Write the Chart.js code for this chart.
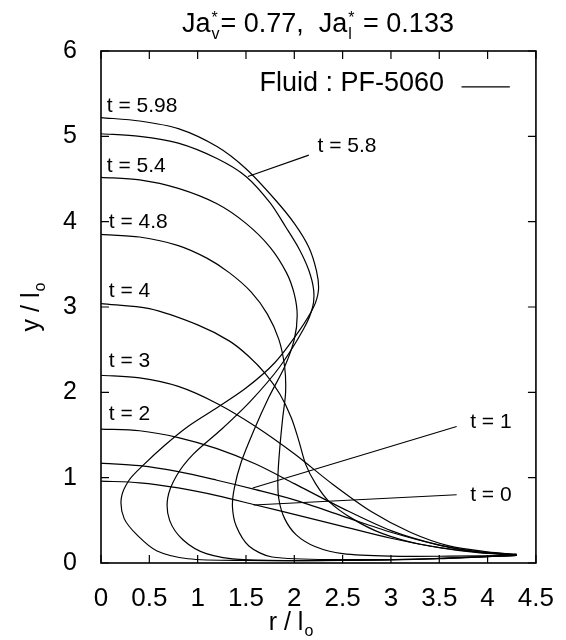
<!DOCTYPE html>
<html>
<head>
<meta charset="utf-8">
<script src="https://cdn.jsdelivr.net/npm/chart.js@4.4.1/dist/chart.umd.min.js"></script>
<style>
  html, body { margin: 0; padding: 0; background: #fff; }
  #wrap { width: 566px; height: 640px; }
</style>
</head>
<body>
<div id="wrap"><canvas id="chart" width="566" height="640"></canvas></div>
<script>
// ejes
const xTicks = [0, 0.5, 1, 1.5, 2, 2.5, 3, 3.5, 4, 4.5];
const yTicks = [0, 1, 2, 3, 4, 5, 6];

// perfiles de la interfase (r / lo, y / lo)
const perfil_t0 = [[0,0.96],[0.4,0.94],[0.8,0.88],[1.2,0.79],[1.6,0.68],[2.0,0.57],[2.5,0.43],[3.0,0.29],[3.5,0.18],[3.9,0.12],[4.3,0.09]];
const perfil_t1 = [[0,1.17],[0.4,1.14],[0.8,1.07],[1.2,0.97],[1.6,0.86],[2.0,0.74],[2.5,0.55],[3.0,0.36],[3.5,0.21],[3.9,0.13],[4.3,0.09]];
const perfil_t2 = [[0,1.57],[0.4,1.55],[0.8,1.47],[1.2,1.34],[1.6,1.16],[2.0,0.93],[2.5,0.64],[3.0,0.38],[3.5,0.21],[3.9,0.13],[4.3,0.1]];
const perfil_t3 = [[0,2.2],[0.4,2.17],[0.8,2.07],[1.2,1.87],[1.6,1.6],[2.0,1.28],[2.4,0.92],[2.8,0.6],[3.2,0.36],[3.6,0.2],[4.0,0.13],[4.3,0.1]];
const perfil_t4 = [[0,3.04],[0.5,2.98],[1.0,2.79],[1.33,2.6],[1.53,2.42],[1.7,2.22],[1.85,1.98],[1.97,1.7],[2.05,1.42],[2.12,1.15],[2.22,0.93],[2.36,0.72],[2.6,0.52],[2.9,0.35],[3.3,0.22],[3.8,0.14],[4.3,0.1]];
const perfil_t48 = [[0,3.85],[0.4,3.82],[0.8,3.72],[1.1,3.57],[1.33,3.4],[1.55,3.18],[1.72,2.92],[1.84,2.62],[1.9,2.3],[1.91,2.0],[1.88,1.7],[1.85,1.35],[1.83,1.0],[1.84,0.75],[1.9,0.52],[2.02,0.33],[2.22,0.19],[2.5,0.11],[3.0,0.08],[3.6,0.08],[4.3,0.09]];
const perfil_t54 = [[0,4.52],[0.4,4.49],[0.8,4.39],[1.2,4.21],[1.5,3.98],[1.75,3.7],[1.92,3.4],[2.0,3.15],[2.03,2.9],[2.0,2.62],[1.9,2.3],[1.74,1.95],[1.58,1.55],[1.45,1.18],[1.38,0.88],[1.36,0.66],[1.4,0.43],[1.53,0.2],[1.77,0.07],[2.5,0.04],[3.4,0.05],[4.3,0.09]];
const perfil_t58 = [[0,5.03],[0.4,5.0],[0.8,4.92],[1.2,4.74],[1.5,4.53],[1.75,4.22],[1.91,3.94],[2.05,3.68],[2.15,3.43],[2.2,3.2],[2.19,3.0],[2.1,2.75],[1.85,2.3],[1.55,1.9],[1.25,1.57],[0.95,1.27],[0.78,1.02],[0.69,0.76],[0.71,0.5],[0.85,0.27],[1.09,0.11],[1.47,0.04],[2.5,0.03],[3.5,0.05],[4.3,0.09]];
const perfil_t598 = [[0,5.22],[0.4,5.18],[0.8,5.09],[1.2,4.88],[1.5,4.62],[1.8,4.26],[2.0,3.98],[2.15,3.7],[2.23,3.42],[2.25,3.2],[2.2,3.0],[2.05,2.72],[1.8,2.35],[1.5,2.05],[1.2,1.82],[0.9,1.6],[0.66,1.38],[0.44,1.15],[0.29,0.97],[0.21,0.76],[0.24,0.52],[0.38,0.32],[0.58,0.14],[0.9,0.05],[1.5,0.03],[2.5,0.03],[3.4,0.05],[4.3,0.09]];

// lineas indicadoras de las etiquetas
const guia_t58 = [[1.52,4.53],[2.15,4.78]];
const guia_t1 = [[1.57,0.88],[3.68,1.60]];
const guia_t0 = [[1.58,0.68],[3.68,0.80]];

const perfiles = [perfil_t0, perfil_t1, perfil_t2, perfil_t3, perfil_t4, perfil_t48, perfil_t54, perfil_t58, perfil_t598];
const guias = [guia_t58, guia_t1, guia_t0];

const FONT = '"Liberation Sans", Arial, Helvetica, sans-serif';
const aPuntos = (arr) => arr.map(p => ({ x: p[0], y: p[1] }));

const datasets = [];
perfiles.forEach(p => {
  datasets.push({
    data: aPuntos(p),
    showLine: true,
    borderColor: "#000",
    borderWidth: 1.2,
    pointRadius: 0,
    tension: 0.3,
    fill: false,
  });
});
guias.forEach(g => {
  datasets.push({
    data: aPuntos(g),
    showLine: true,
    borderColor: "#000",
    borderWidth: 1.1,
    pointRadius: 0,
    tension: 0,
  });
});

// marco, marcas hacia adentro y textos
const anotaciones = {
  id: "anotaciones",
  afterDraw(chart) {
    const { ctx, chartArea: a, scales: { x, y } } = chart;
    ctx.save();
    ctx.strokeStyle = "#000";
    ctx.fillStyle = "#000";
    ctx.lineWidth = 1.6;
    ctx.strokeRect(a.left, a.top, a.right - a.left, a.bottom - a.top);

    ctx.lineWidth = 1.2;
    ctx.beginPath();
    xTicks.forEach(v => {
      const px = x.getPixelForValue(v);
      ctx.moveTo(px, a.bottom); ctx.lineTo(px, a.bottom - 8);
      ctx.moveTo(px, a.top); ctx.lineTo(px, a.top + 8);
    });
    yTicks.forEach(v => {
      const py = y.getPixelForValue(v);
      ctx.moveTo(a.left, py); ctx.lineTo(a.left + 8, py);
      ctx.moveTo(a.right, py); ctx.lineTo(a.right - 8, py);
    });
    ctx.stroke();

    const texto = (t, r, yv, size) => {
      ctx.font = size + "px " + FONT;
      ctx.textAlign = "left";
      ctx.textBaseline = "middle";
      ctx.fillText(t, x.getPixelForValue(r), y.getPixelForValue(yv));
    };
    texto("t = 5.98", 0.06, 5.35, 21);
    texto("t = 5.4", 0.06, 4.65, 21);
    texto("t = 4.8", 0.08, 3.99, 21);
    texto("t = 4", 0.08, 3.19, 21);
    texto("t = 3", 0.08, 2.36, 21);
    texto("t = 2", 0.08, 1.74, 21);
    texto("t = 5.8", 2.24, 4.88, 21);
    texto("t = 1", 3.82, 1.65, 21);
    texto("t = 0", 3.82, 0.79, 21);

    // leyenda
    texto("Fluid : PF-5060", 1.64, 5.62, 27);
    ctx.lineWidth = 1.2;
    ctx.beginPath();
    ctx.moveTo(x.getPixelForValue(3.73), y.getPixelForValue(5.58));
    ctx.lineTo(x.getPixelForValue(4.23), y.getPixelForValue(5.58));
    ctx.stroke();

    // titulo con sub/superindices
    ctx.textAlign = "left";
    ctx.textBaseline = "alphabetic";
    let cx = 182;
    const base = 32;
    const trozo = (t) => {
      ctx.font = "27px " + FONT;
      ctx.fillText(t, cx, base);
      cx += ctx.measureText(t).width;
    };
    const indices = (sup, sub) => {
      ctx.font = "16px " + FONT;
      ctx.fillText(sup, cx + 1, base - 9);
      ctx.fillText(sub, cx + 1, base + 7);
      cx += Math.max(ctx.measureText(sup).width, ctx.measureText(sub).width) + 2;
    };
    trozo("Ja"); indices("*", "v"); trozo("= 0.77,  Ja"); indices("*", "l"); trozo(" = 0.133");

    // titulos de ejes
    const tituloEje = (principal, sub, cxm, cym, rot) => {
      ctx.save();
      ctx.translate(cxm, cym);
      ctx.rotate(rot);
      ctx.font = "25px " + FONT;
      const w1 = ctx.measureText(principal).width;
      ctx.font = "16px " + FONT;
      const w2 = ctx.measureText(sub).width;
      const x0 = -(w1 + w2 + 1) / 2;
      ctx.font = "25px " + FONT;
      ctx.textBaseline = "alphabetic";
      ctx.fillText(principal, x0, 8);
      ctx.font = "16px " + FONT;
      ctx.fillText(sub, x0 + w1 + 1, 14);
      ctx.restore();
    };
    tituloEje("r / l", "o", 291, 622, 0);
    tituloEje("y / l", "o", 31, 307, -Math.PI / 2);

    ctx.restore();
  },
};

new Chart(document.getElementById("chart"), {
  type: "scatter",
  data: { datasets },
  options: {
    responsive: false,
    animation: false,
    layout: { padding: { top: 51, right: 28, left: 0, bottom: 0 } },
    plugins: { legend: { display: false }, tooltip: { enabled: false }, title: { display: false } },
    scales: {
      x: {
        type: "linear",
        min: 0,
        max: 4.5,
        grid: { display: false },
        border: { display: false },
        afterFit: (s) => { s.height = 77; },
        afterBuildTicks: (s) => { s.ticks = xTicks.map(v => ({ value: v })); },
        ticks: {
          color: "#000",
          padding: 12,
          font: { family: FONT, size: 26 },
          callback: (v) => String(v),
        },
      },
      y: {
        type: "linear",
        min: 0,
        max: 6,
        grid: { display: false },
        border: { display: false },
        afterFit: (s) => { s.width = 101; },
        afterBuildTicks: (s) => { s.ticks = yTicks.map(v => ({ value: v })); },
        ticks: {
          color: "#000",
          padding: 16,
          font: { family: FONT, size: 25 },
          callback: (v) => String(v),
        },
      },
    },
  },
  plugins: [anotaciones],
});
</script>
</body>
</html>
